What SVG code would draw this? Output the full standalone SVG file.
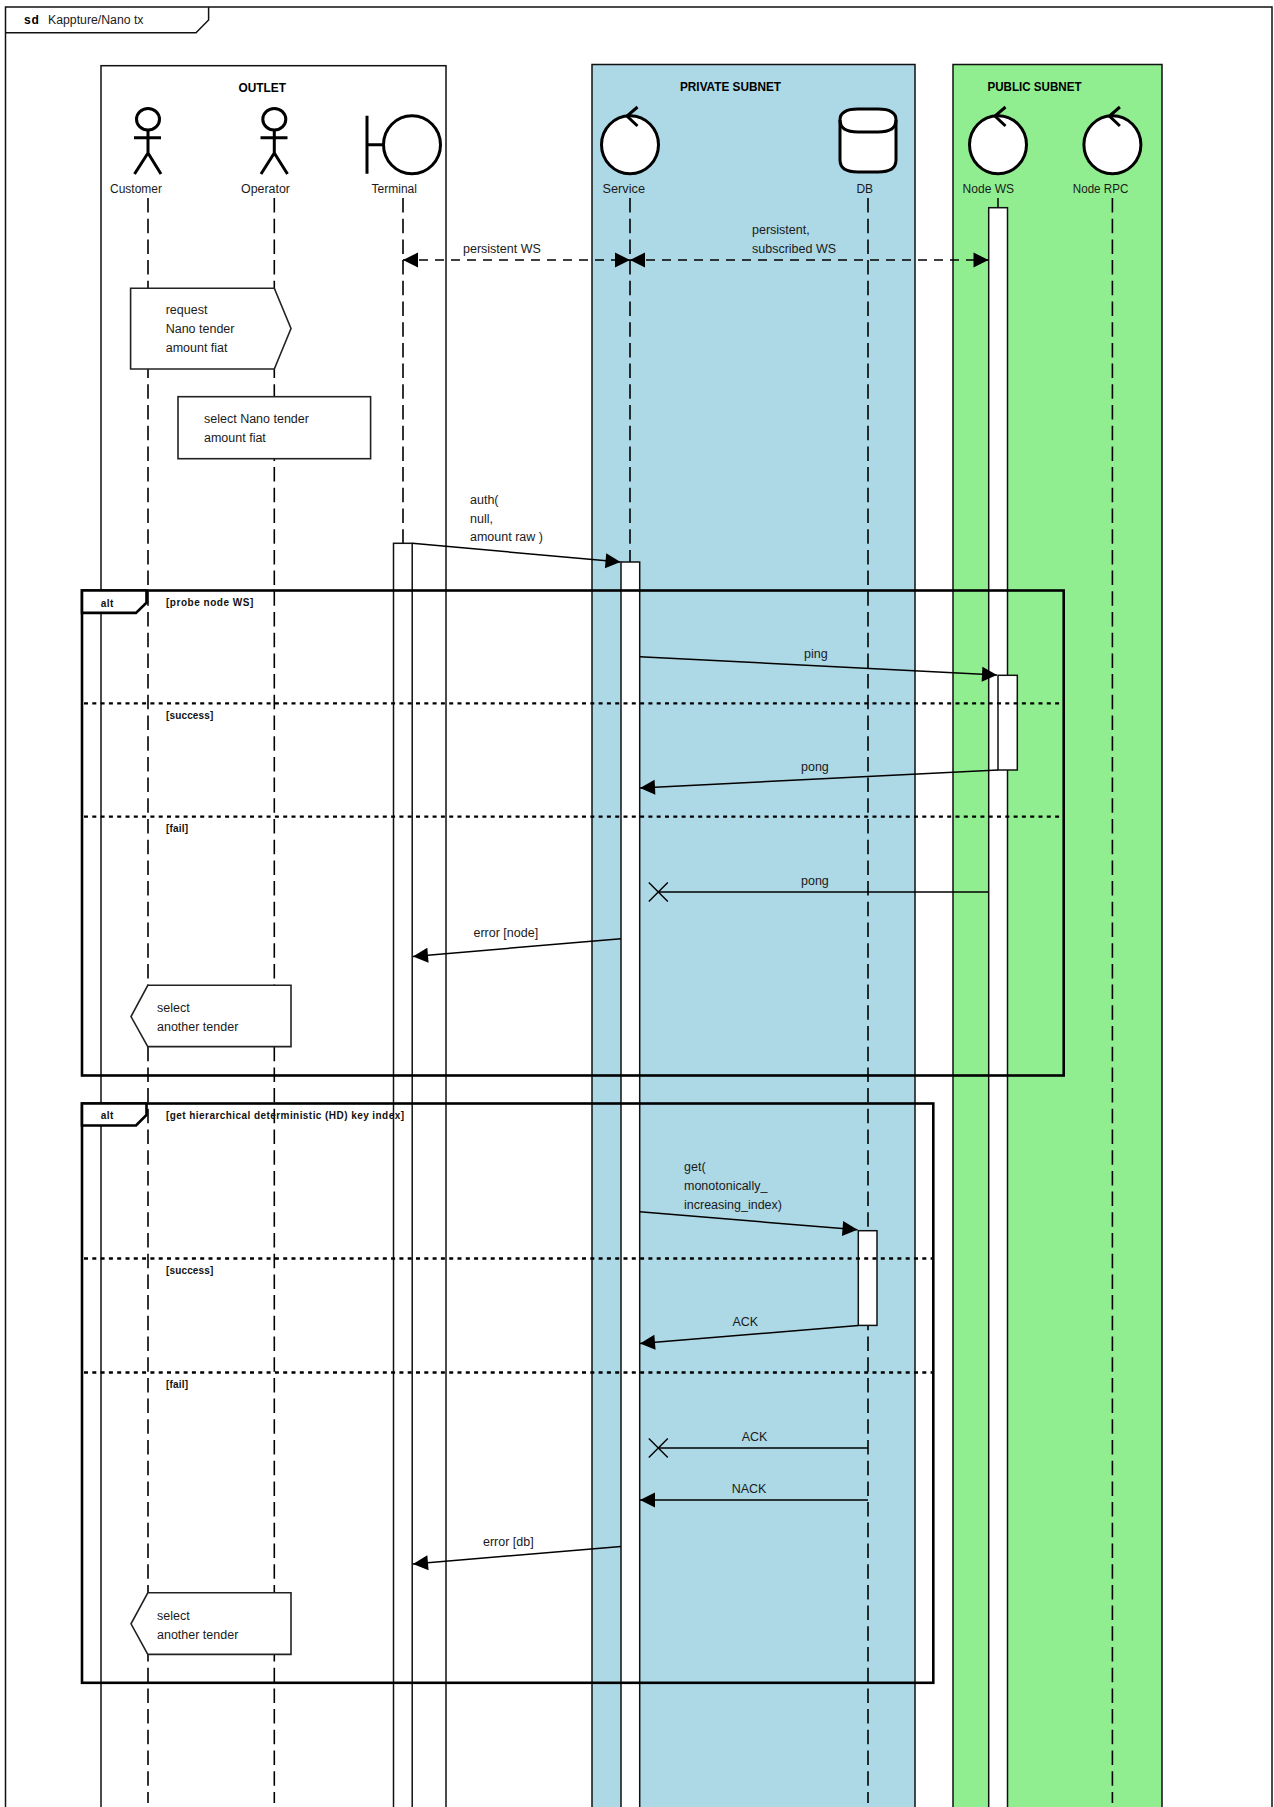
<svg xmlns="http://www.w3.org/2000/svg" width="1274" height="1807" viewBox="0 0 1274 1807">
<style>
text{font-family:"Liberation Sans",Arial,sans-serif;font-size:12px;fill:#1a1a1a}
.m{font-size:12.5px}
.b{font-weight:bold;fill:#000}
.g{font-weight:bold;font-size:10px;fill:#111}
.region{stroke:#111;stroke-width:1.5}
.sym{fill:#fff;stroke:#000;stroke-width:3}
.stick{fill:none;stroke:#000;stroke-width:3}
.life{fill:none;stroke:#000;stroke-width:1.6;stroke-dasharray:14.5 6.2}
.act{fill:#fff;stroke:#111;stroke-width:1.5}
.msg{fill:none;stroke:#000;stroke-width:1.5}
.dash{stroke-dasharray:9 7;stroke-width:1.6}
.box{fill:#fff;stroke:#222;stroke-width:1.6}
.alt{fill:none;stroke:#000;stroke-width:2.6}
.tab{fill:#fff;stroke:#000;stroke-width:2.6}
.sep{fill:none;stroke:#000;stroke-width:2.4;stroke-dasharray:4 4.3}
.x{fill:none;stroke:#000;stroke-width:1.4}
</style>
<defs>
<marker id="arrow" markerUnits="userSpaceOnUse" markerWidth="17" markerHeight="17" refX="16" refY="8" orient="auto-start-reverse"><path d="M1,0.5 L16,8 L1,15.5 Z" fill="#000"/></marker>
</defs>
<rect width="1274" height="1807" fill="#fff"/>
<g id="frame">
<path d="M5.5,1807 V7 H1272 V1807" fill="none" stroke="#111" stroke-width="1.5"/>
<path d="M5.5,32.7 H196 L208.6,20 V7" fill="none" stroke="#111" stroke-width="1.5"/>
<text x="24" y="24" class="b" letter-spacing=".8">sd</text>
<text x="48" y="24" textLength="95.5" lengthAdjust="spacingAndGlyphs">Kappture/Nano tx</text>
</g>
<g id="region-outlet">
<rect x="101" y="65.7" width="345" height="1760" fill="#fff" class="region"/>
<text x="238.4" y="92" class="b" textLength="47.5" lengthAdjust="spacingAndGlyphs">OUTLET</text>
</g>
<g id="region-private">
<rect x="592" y="64.5" width="323" height="1760" fill="#ADD8E6" class="region"/>
<text x="680" y="91" class="b" textLength="101" lengthAdjust="spacingAndGlyphs">PRIVATE SUBNET</text>
</g>
<g id="region-public">
<rect x="953" y="64.5" width="209" height="1760" fill="#90EE90" class="region"/>
<text x="987.5" y="91" class="b" textLength="94" lengthAdjust="spacingAndGlyphs">PUBLIC SUBNET</text>
</g>
<g id="lifelines">
<path class="life" d="M148,198 V1803"/>
<path class="life" d="M274.3,198 V1803"/>
<path class="life" d="M403,198 V544"/>
<path class="life" d="M630,198 V562"/>
<path class="life" d="M868,198 V1803"/>
<path d="M998,198 V208" fill="none" stroke="#000" stroke-width="1.5"/>
<path class="life" d="M1112.4,198 V1803"/>
</g>
<g id="node-customer">
<ellipse class="sym" cx="148" cy="119.3" rx="11.5" ry="10.8"/>
<path class="stick" d="M148,130 V153 M134,137.7 H161 M134.5,174 L148,153 L161,174"/>
<text x="110" y="193" textLength="52" lengthAdjust="spacingAndGlyphs">Customer</text>
</g>
<g id="node-operator">
<ellipse class="sym" cx="274.3" cy="119.3" rx="11.5" ry="10.8"/>
<path class="stick" d="M274.3,130 V153 M260.5,137.7 H287.5 M261,174 L274.3,153 L287.5,174"/>
<text x="241" y="193" textLength="49" lengthAdjust="spacingAndGlyphs">Operator</text>
</g>
<g id="node-terminal">
<path class="stick" d="M367,115.7 V173.7 M367,144.7 H383.7"/>
<ellipse class="sym" cx="412" cy="144.7" rx="28.5" ry="29"/>
<text x="371.5" y="193" textLength="45.5" lengthAdjust="spacingAndGlyphs">Terminal</text>
</g>
<g id="node-service">
<ellipse class="sym" cx="630" cy="144.7" rx="28.5" ry="29"/>
<path class="stick" d="M637.5,107 L627,116 L637.5,126"/>
<text x="602.5" y="193" textLength="42.5" lengthAdjust="spacingAndGlyphs">Service</text>
</g>
<g id="node-db">
<path class="sym" d="M840,120 Q840,109 858,109 H878 Q896,109 896,120 V160 Q896,172 878,172 H858 Q840,172 840,160 Z"/>
<path class="stick" d="M840,120 Q840,132 858,132 H878 Q896,132 896,120"/>
<text x="856.4" y="193">DB</text>
</g>
<g id="node-nodews">
<ellipse class="sym" cx="998" cy="144.7" rx="28.5" ry="29"/>
<path class="stick" d="M1005.5,107 L995,116 L1005.5,126"/>
<text x="962.6" y="193" textLength="51.5" lengthAdjust="spacingAndGlyphs">Node WS</text>
</g>
<g id="node-noderpc">
<ellipse class="sym" cx="1112.4" cy="144.7" rx="28.5" ry="29"/>
<path class="stick" d="M1119.9,107 L1109.4,116 L1119.9,126"/>
<text x="1072.8" y="193" textLength="55.5" lengthAdjust="spacingAndGlyphs">Node RPC</text>
</g>
<g id="activations">
<rect class="act" x="393.5" y="543.3" width="18.7" height="1280"/>
<rect class="act" x="621" y="562" width="18.7" height="1280"/>
<rect class="act" x="988.7" y="207.7" width="18.8" height="1620"/>
<rect class="act" x="998" y="675.3" width="19.3" height="94.7"/>
<rect class="act" x="858.3" y="1230.7" width="18.7" height="94.7"/>
</g>
<g id="node-request">
<path class="box" d="M130.6,288.3 H274.3 L291,328.5 L274.3,369 H130.6 Z"/>
<text x="165.7" y="314" class="m">request</text>
<text x="165.7" y="333" class="m">Nano tender</text>
<text x="165.7" y="352" class="m">amount fiat</text>
</g>
<g id="node-select">
<rect class="box" x="178" y="396.7" width="192.6" height="62"/>
<text x="204" y="423" class="m">select Nano tender</text>
<text x="204" y="442" class="m">amount fiat</text>
</g>
<g id="node-select-another-1">
<path class="box" d="M147.8,985.3 H291 V1046.6 H147.8 L131,1016.6 Z"/>
<text x="157" y="1012" class="m">select</text>
<text x="157" y="1031" class="m">another tender</text>
</g>
<g id="node-select-another-2">
<path class="box" d="M147.8,1592.8 H291 V1654.4 H147.8 L131,1623.8 Z"/>
<text x="157" y="1620" class="m">select</text>
<text x="157" y="1639" class="m">another tender</text>
</g>
<g id="node-alt-probe">
<rect class="alt" x="82" y="590.5" width="981.7" height="485"/>
<path class="tab" d="M82,590.5 H146.5 V602.6 L136,612.9 H82 Z"/>
<text x="100.8" y="606.5" class="g" textLength="12.6">alt</text>
<text x="166" y="605.8" class="g" textLength="87.3">[probe node WS]</text>
<path class="sep" d="M84,703.4 H1062"/>
<text x="166" y="719" class="g" textLength="47.3">[success]</text>
<path class="sep" d="M84,816.6 H1062"/>
<text x="166" y="832" class="g" textLength="22">[fail]</text>
</g>
<g id="node-alt-hd">
<rect class="alt" x="82" y="1103.5" width="851.3" height="579.3"/>
<path class="tab" d="M82,1103.5 H146.5 V1115 L136,1125.5 H82 Z"/>
<text x="100.8" y="1119.4" class="g" textLength="12.6">alt</text>
<text x="166" y="1119.4" class="g" textLength="238">[get hierarchical deterministic (HD) key index]</text>
<path class="sep" d="M84,1258.5 H932"/>
<text x="166" y="1273.8" class="g" textLength="47.3">[success]</text>
<path class="sep" d="M84,1372.5 H932"/>
<text x="166" y="1387.8" class="g" textLength="22">[fail]</text>
</g>
<g id="connectors">
<path class="msg dash" d="M403,260 H630" marker-start="url(#arrow)" marker-end="url(#arrow)"/>
<path class="msg dash" d="M630,260 H988.5" marker-start="url(#arrow)" marker-end="url(#arrow)"/>
<path class="msg" d="M412.2,543.3 L620.5,562" marker-end="url(#arrow)"/>
<path class="msg" d="M639.7,656.7 L997,675" marker-end="url(#arrow)"/>
<path class="msg" d="M998,770 L640,788" marker-end="url(#arrow)"/>
<path class="msg" d="M988.3,892 H658.3"/>
<path class="x" d="M648.8,882.5 L667.8,901.5 M648.8,901.5 L667.8,882.5"/>
<path class="msg" d="M621,938.7 L413,956.5" marker-end="url(#arrow)"/>
<path class="msg" d="M639.7,1211.8 L857.5,1229.8" marker-end="url(#arrow)"/>
<path class="msg" d="M858.3,1325.4 L640,1343.5" marker-end="url(#arrow)"/>
<path class="msg" d="M868,1448 H658.3"/>
<path class="x" d="M648.8,1438.5 L667.8,1457.5 M648.8,1457.5 L667.8,1438.5"/>
<path class="msg" d="M868,1500 H640" marker-end="url(#arrow)"/>
<path class="msg" d="M621,1546.4 L413,1564" marker-end="url(#arrow)"/>
</g>
<g id="connector-labels">
<text x="463" y="253" class="m">persistent WS</text>
<text x="752" y="234" class="m">persistent,</text>
<text x="752" y="253" class="m">subscribed WS</text>
<text x="470" y="503.5" class="m">auth(</text>
<text x="470" y="522.5" class="m">null,</text>
<text x="470" y="541.3" class="m">amount raw )</text>
<text x="804" y="658" class="m">ping</text>
<text x="801" y="770.5" class="m">pong</text>
<text x="801" y="885" class="m">pong</text>
<text x="473.5" y="936.7" class="m">error [node]</text>
<text x="684" y="1171.2" class="m">get(</text>
<text x="684" y="1190" class="m">monotonically_</text>
<text x="684" y="1209" class="m">increasing_index)</text>
<text x="732.5" y="1326" class="m">ACK</text>
<text x="741.7" y="1440.8" class="m">ACK</text>
<text x="731.7" y="1492.7" class="m">NACK</text>
<text x="483" y="1546" class="m">error [db]</text>
</g>
</svg>
